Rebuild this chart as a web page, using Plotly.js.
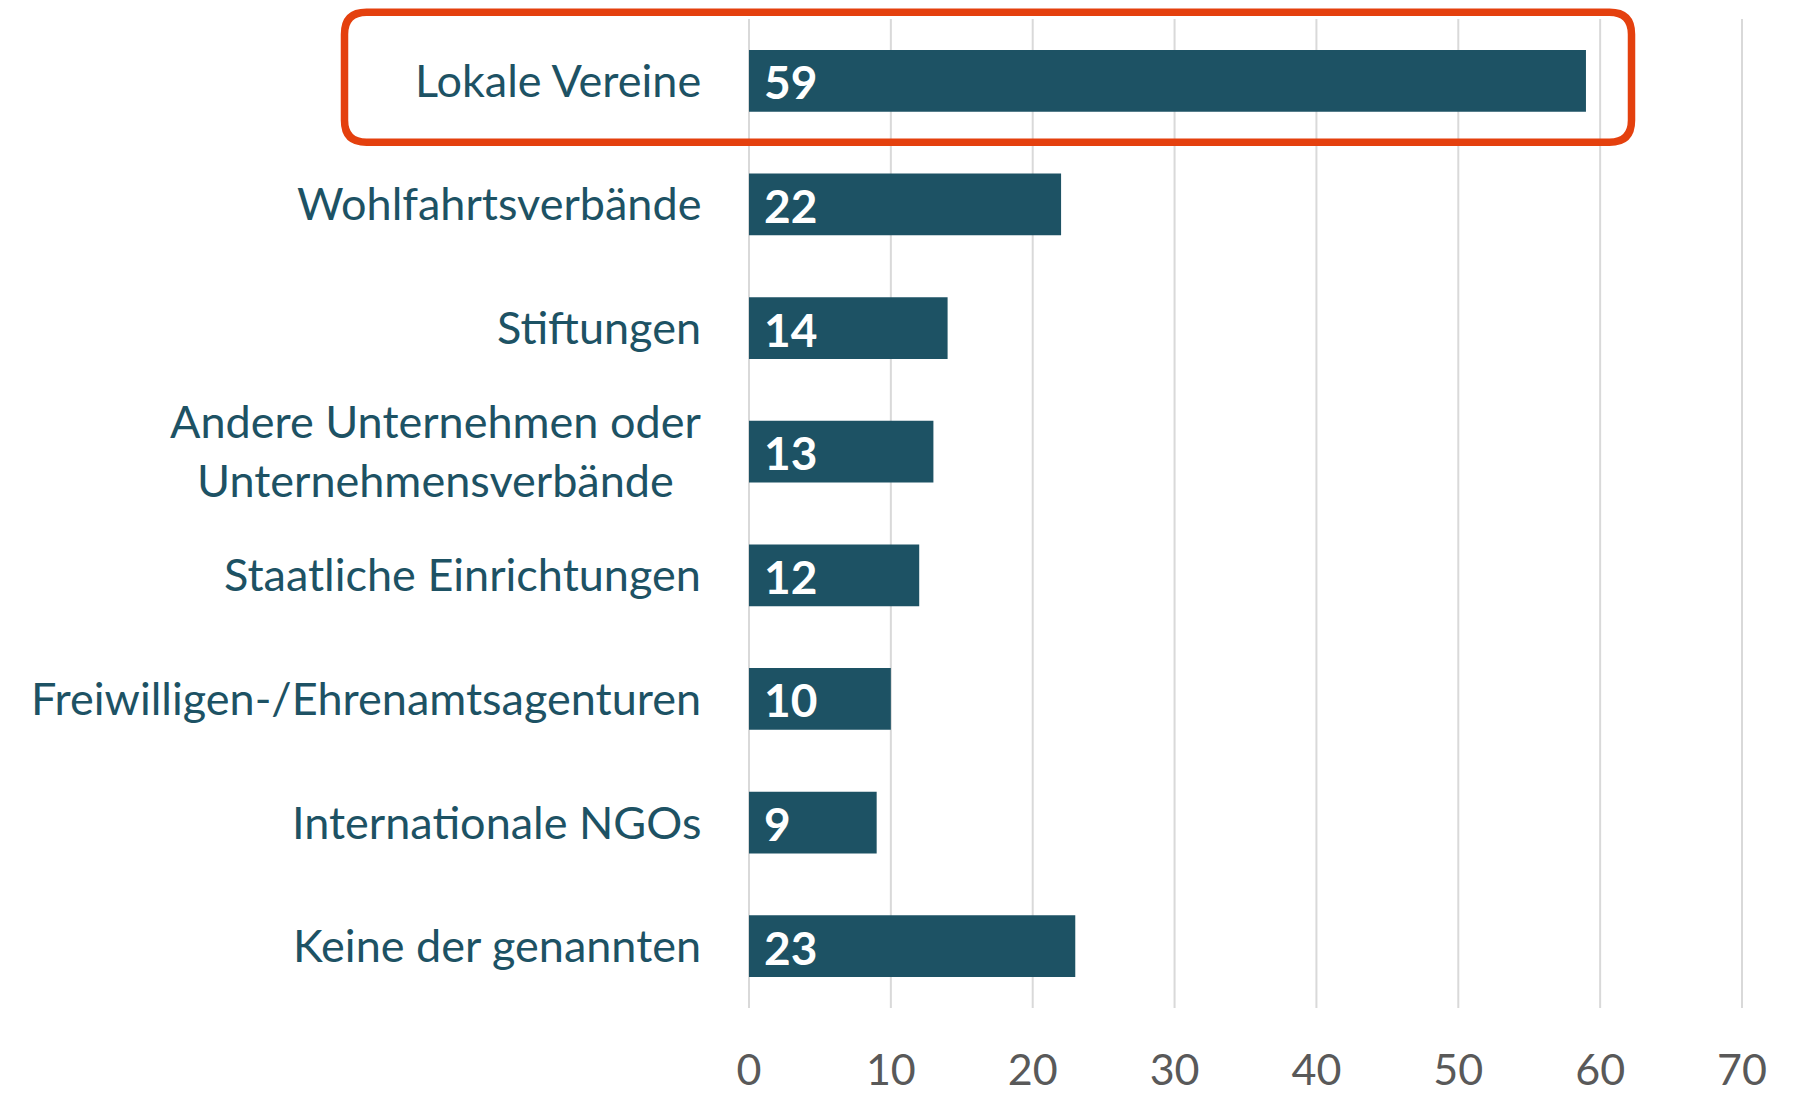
<!DOCTYPE html>
<html>
<head>
<meta charset="utf-8">
<script src="https://cdn.plot.ly/plotly-3.0.1.min.js"></script>
<style>html,body{margin:0;padding:0;background:#fff;}#chart{width:1812px;height:1097px;}</style>
</head>
<body>
<div id="chart"></div>
<script>
const categories = [
  "Lokale Vereine",
  "Wohlfahrtsverbände",
  "Stiftungen",
  "Andere Unternehmen oder<br>Unternehmensverbände",
  "Staatliche Einrichtungen",
  "Freiwilligen-/Ehrenamtsagenturen",
  "Internationale NGOs",
  "Keine der genannten"
];
const values = [59, 22, 14, 13, 12, 10, 9, 23];
const xTickValues = [0, 10, 20, 30, 40, 50, 60, 70];
const highlighted = "Lokale Vereine";

const barColor = "#1d5264";
const labelColor = "#1d5264";
const tickColor = "#595959";
const gridColor = "#d9d9d9";
const red = "#e4400e";
const fontFamily = "Lato, 'Open Sans', sans-serif";

const trace = {
  type: "bar",
  orientation: "h",
  y: categories,
  x: values,
  marker: { color: barColor },
  hoverinfo: "none"
};

const annotations = [];
categories.forEach((c, i) => {
  annotations.push({
    xref: "paper", yref: "y", x: 0, y: c,
    xanchor: "right", yanchor: "middle", align: "center",
    xshift: -45, yshift: 1, showarrow: false, text: c,
    font: { family: fontFamily, size: 45, color: labelColor }
  });
  annotations.push({
    xref: "x", yref: "y", x: 0, y: c,
    xanchor: "left", yanchor: "middle",
    xshift: 13, yshift: -1, showarrow: false, text: String(values[i]),
    font: { family: fontFamily, size: 46, color: "#ffffff", weight: 700 }
  });
});

// vertical gridlines at the tick values (drawn beneath the bars)
const shapes = xTickValues.map(v => ({
  type: "line", layer: "below",
  xref: "x", yref: "paper", x0: v, x1: v, y0: 0, y1: 1,
  line: { color: gridColor, width: 2 }
}));

const hi = categories.indexOf(highlighted);
const yAnchor = 1 - (hi + 0.5) / categories.length;
const L = -403.5, R = 883.5, T = 68.5, B = -61.5, r = 22;
const path = `M ${L + r},${T} L ${R - r},${T} Q ${R},${T} ${R},${T - r} L ${R},${B + r} Q ${R},${B} ${R - r},${B} L ${L + r},${B} Q ${L},${B} ${L},${B + r} L ${L},${T - r} Q ${L},${T} ${L + r},${T} Z`;
shapes.push({
  type: "path", layer: "above",
  xref: "paper", yref: "paper",
  xsizemode: "pixel", ysizemode: "pixel",
  xanchor: 0, yanchor: yAnchor,
  path: path,
  line: { color: red, width: 7.5 }
});

const layout = {
  width: 1812, height: 1097,
  margin: { l: 748, r: 69, t: 19, b: 89 },
  paper_bgcolor: "#ffffff", plot_bgcolor: "#ffffff",
  bargap: 0.5,
  showlegend: false,
  font: { family: fontFamily },
  xaxis: {
    range: [-0.07, 70.07],
    tickvals: xTickValues,
    ticktext: xTickValues.map(String),
    showgrid: false,
    zeroline: false, showline: false, ticks: "",
    ticklabelstandoff: 33,
    tickfont: { family: fontFamily, size: 43, color: tickColor },
    fixedrange: true
  },
  yaxis: {
    autorange: "reversed",
    showticklabels: false, showgrid: false, zeroline: false, showline: false,
    fixedrange: true
  },
  annotations: annotations,
  shapes: shapes
};

Plotly.newPlot("chart", [trace], layout, { displayModeBar: false, staticPlot: true });
</script>
</body>
</html>
